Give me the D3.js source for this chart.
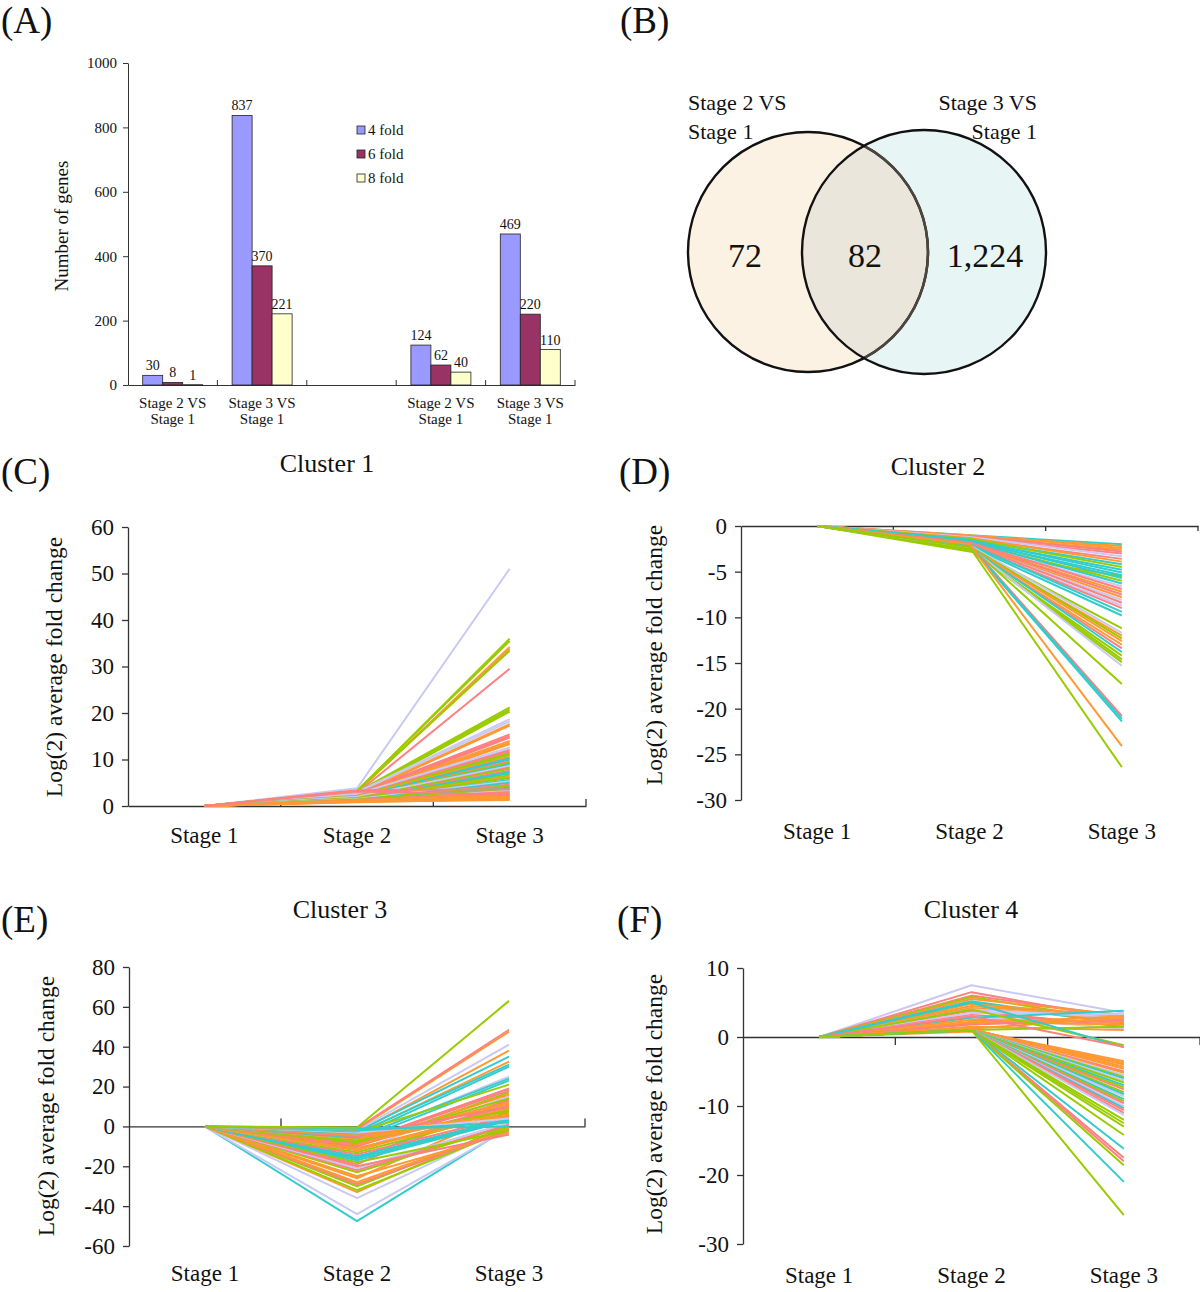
<!DOCTYPE html>
<html><head><meta charset="utf-8">
<script src="https://cdn.jsdelivr.net/npm/d3@7"></script>
<style>
body{margin:0;background:#fff}
svg{display:block}
svg text{font-family:"Liberation Serif","Times New Roman",serif !important;fill:#111}
</style>
</head><body>
<svg id="fig" width="1200" height="1292"></svg>
<script>
// ---------------- Panel A data ----------------
const barGroups = ["g1","g2","gap","g3","g4"];
const barGroupLabels = [["Stage 2 VS","Stage 1"],["Stage 3 VS","Stage 1"],[],["Stage 2 VS","Stage 1"],["Stage 3 VS","Stage 1"]];
const foldSeries = ["4 fold","6 fold","8 fold"];
const fold4 = [30, 837, null, 124, 469];
const fold6 = [8, 370, null, 62, 220];
const fold8 = [1, 221, null, 40, 110];
const barTicks = [0,200,400,600,800,1000];
const barYTitle = "Number of genes";

// ---------------- Panel B data ----------------
const vennSetLabels = [["Stage 2 VS","Stage 1"],["Stage 3 VS","Stage 1"]];
const vennCounts = [72, 82, 1224];
const vennCountLabels = ["72","82","1,224"];

// ---------------- Cluster panels ----------------
const stages = ["Stage 1","Stage 2","Stage 3"];
const stage1Value = 0;
const clusterTitles = ["Cluster 1","Cluster 2","Cluster 3","Cluster 4"];
const clusterYTitle = "Log(2) average fold change";
const cluster1Ticks = [0,10,20,30,40,50,60];
const cluster2Ticks = [0,-5,-10,-15,-20,-25,-30];
const cluster3Ticks = [80,60,40,20,0,-20,-40,-60];
const cluster4Ticks = [10,0,-10,-20,-30];
// colour groups: L lavender, G green, S salmon, O orange, T teal
// each line: [stage 2 value, stage 3 value, colour group]
const cluster1 = [
 [3.8,51,'L'],[3.2,36,'G'],[3.3,35.5,'G'],[3.0,34.2,'O'],[3.1,33.8,'O'],[3.2,33.4,'G'],
 [2.8,29.5,'S'],[3.0,21.2,'G'],[2.9,20.7,'G'],[2.6,20.3,'G'],[3.0,18.7,'L'],[2.8,18.2,'L'],
 [2.5,17.6,'O'],[2.4,17.3,'O'],[2.7,15.4,'S'],[2.5,15.0,'S'],[2.3,14.7,'S'],[2.4,14.0,'O'],
 [2.2,13.6,'O'],[2.0,13.3,'O'],[2.6,12.6,'L'],[2.3,12.2,'L'],[2.2,12.0,'S'],[2.0,11.6,'S'],
 [2.1,11.3,'G'],[1.9,11.0,'G'],[2.0,10.6,'O'],[1.8,10.3,'T'],[1.9,10.0,'T'],[1.7,9.6,'S'],
 [1.8,9.3,'G'],[1.6,9.0,'T'],[2.0,8.6,'L'],[1.5,8.3,'S'],[1.7,8.0,'G'],[1.6,7.6,'S'],
 [1.4,7.3,'T'],[1.5,7.0,'T'],[1.6,6.6,'G'],[1.3,6.3,'O'],[1.4,6.0,'G'],[1.2,5.6,'T'],
 [1.5,5.3,'L'],[1.3,5.0,'T'],[1.2,4.6,'S'],[1.4,4.3,'G'],[1.1,4.0,'T'],[1.2,3.6,'G'],
 [1.0,3.3,'L'],[1.3,3.0,'S'],[1.1,2.7,'O'],[1.0,2.5,'S'],[1.2,2.3,'O'],[0.9,2.1,'O'],
 [1.0,1.9,'O'],[1.1,1.7,'O'],[0.8,1.5,'O'],[0.9,1.3,'O'],[3.4,3.6,'S'],[3.1,2.4,'S']
];
const cluster2 = [
 [-2.8,-5.5,'G'],[-1.0,-2.0,'T'],[-1.1,-2.2,'O'],[-1.0,-2.4,'O'],[-1.2,-2.6,'O'],[-1.1,-2.8,'S'],
 [-1.3,-3.0,'S'],[-1.2,-3.3,'L'],[-1.4,-3.6,'S'],[-1.3,-3.9,'O'],[-1.5,-4.2,'T'],[-1.4,-4.5,'G'],
 [-1.6,-4.8,'T'],[-1.5,-5.1,'T'],[-1.7,-5.4,'T'],[-1.6,-5.7,'T'],[-1.8,-6.0,'G'],[-1.7,-6.3,'T'],
 [-1.9,-6.6,'L'],[-1.8,-6.9,'S'],[-2.0,-7.2,'O'],[-1.9,-7.5,'S'],[-2.0,-7.8,'O'],[-2.1,-8.1,'L'],
 [-2.0,-8.4,'S'],[-2.2,-8.7,'L'],[-2.1,-9.0,'S'],[-2.0,-9.4,'T'],[-2.2,-9.8,'T'],[-2.3,-11.2,'G'],
 [-2.1,-11.7,'L'],[-2.4,-12.0,'O'],[-2.2,-12.3,'G'],[-2.3,-12.6,'O'],[-2.5,-13.0,'O'],[-2.4,-13.4,'S'],
 [-2.3,-13.8,'T'],[-2.6,-14.2,'G'],[-2.4,-14.6,'G'],[-2.5,-14.9,'G'],[-2.3,-15.3,'L'],[-2.2,-17.3,'G'],
 [-2.0,-20.8,'S'],[-2.1,-21.1,'T'],[-2.2,-21.4,'T'],[-2.0,-24.1,'O'],[-2.3,-26.4,'G']
];
const cluster3 = [
 [-47.5,-0.5,'T'],[-44,-1,'L'],[-36,0,'L'],[-33,1,'O'],[-32,-1.5,'G'],[-30,0,'G'],[-29,-2,'S'],
 [-28,-1,'O'],[-26,8,'O'],[-25,-3,'O'],[-23,0.5,'G'],[-22,1,'S'],[-21,2,'L'],[-20,-4,'S'],
 [-19,14,'S'],[-18,-2,'G'],[-17,3,'T'],[-16,12,'T'],[-16,3.5,'T'],[-15,4,'T'],[-14,5,'S'],
 [-13,7,'G'],[-12,15,'L'],[-12,9,'O'],[-11,8,'O'],[-11,6,'O'],[-10,17,'G'],[-10,13,'S'],
 [-9,16,'O'],[-9,10,'S'],[-9,9,'O'],[-8.5,18,'S'],[-8,19,'S'],[-8,14,'G'],[-7,23,'T'],
 [-7,12,'O'],[-7,8,'G'],[-6,25,'L'],[-6,11,'O'],[-6,5,'O'],[-5.5,24,'T'],[-5,30,'T'],
 [-5,10,'S'],[-4,32.5,'O'],[-4,6,'O'],[-3.5,31,'T'],[-3,38,'O'],[-3,21,'G'],[-3,4,'L'],
 [-2.5,35,'T'],[-2,41,'L'],[-2,2,'T'],[-1.5,47.5,'O'],[-1,48.5,'S'],[-1,0,'T'],[-0.5,63,'G']
];
const cluster4 = [
 [7.5,3.5,'L'],[6.5,2.5,'S'],[6.0,3.0,'S'],[5.8,2.2,'G'],[5.5,3.2,'O'],[5.2,2.0,'T'],[5.0,1.8,'T'],
 [4.8,3.0,'O'],[4.5,2.7,'O'],[4.2,2.5,'O'],[4.0,2.8,'L'],[3.8,1.5,'S'],[3.5,3.3,'L'],[3.2,2.0,'S'],
 [3.0,1.2,'L'],[2.8,3.8,'T'],[2.5,2.2,'O'],[2.2,1.8,'O'],[2.0,3.0,'O'],[1.8,2.5,'S'],[1.5,1.0,'O'],
 [1.2,2.8,'O'],[1.0,1.5,'G'],[4.0,-1.2,'G'],[5.0,-1.5,'T'],[3.0,-1.4,'S'],
 [1.0,-3.5,'O'],[1.0,-3.8,'O'],[1.0,-4.0,'O'],[1.1,-4.3,'O'],[1.2,-4.6,'O'],[1.0,-5.0,'S'],
 [0.8,-5.2,'O'],[1.0,-5.5,'L'],[1.0,-5.8,'G'],[1.0,-6.0,'T'],[1.0,-6.3,'L'],[1.0,-6.6,'G'],
 [1.0,-7.0,'T'],[1.0,-7.3,'G'],[1.0,-7.6,'S'],[1.0,-8.0,'G'],[1.0,-8.3,'T'],[1.0,-8.6,'L'],
 [1.0,-9.0,'T'],[1.0,-9.3,'G'],[1.0,-9.6,'S'],[1.0,-10.0,'L'],[1.0,-10.3,'T'],[1.0,-10.6,'S'],
 [1.0,-11.0,'S'],[1.0,-11.3,'L'],[1.0,-12.0,'G'],[1.0,-12.5,'G'],[1.0,-13.0,'G'],[1.0,-14.2,'G'],
 [1.0,-16.2,'T'],[1.0,-17.5,'S'],[1.0,-18.0,'S'],[1.0,-18.6,'G'],[1.0,-21.0,'T'],[1.0,-25.8,'G']
];
const panelLetters = ["(A)","(B)","(C)","(D)","(E)","(F)"];

// ---------------- styles ----------------
const barColors = ["#9999FF","#993366","#FFFFCC"];
const lineColors = {L:"#C9C9F3", G:"#99CC00", S:"#FF8080", O:"#FF9933", T:"#33CCCC"};
const axisColor = "#333";
const SERIF = "Liberation Serif";

const svg = d3.select("#fig");
svg.append("rect").attr("width",1200).attr("height",1292).attr("fill","#fff");

function letter(t, x, y){
  svg.append("text").attr("x",x).attr("y",y).attr("font-family",SERIF).attr("font-size",37).text(t);
}
letter(panelLetters[0], 1, 33);
letter(panelLetters[1], 620, 33);
letter(panelLetters[2], 1, 484);
letter(panelLetters[3], 619, 484);
letter(panelLetters[4], 1, 932);
letter(panelLetters[5], 617, 932);

// ---------------- Panel A ----------------
(function(){
  const g = svg.append("g").attr("font-family",SERIF);
  const x = d3.scaleBand().domain(barGroups).range([128,575]).paddingInner(0).paddingOuter(0);
  const y = d3.scaleLinear().domain([0,1000]).range([385,63]);
  const inner = d3.scaleBand().domain(foldSeries).range([0,60]);
  const off = (x.bandwidth()-60)/2;
  const ya = g.append("g").attr("transform","translate(128,0)")
    .call(d3.axisLeft(y).tickValues(barTicks).tickSize(5).tickSizeOuter(0).tickPadding(6).tickFormat(d=>String(d)));
  ya.attr("font-family",SERIF);
  ya.selectAll("text").attr("font-size",15);
  ya.selectAll("line,path").attr("stroke",axisColor);
  const xa = g.append("g").attr("transform","translate(0,385)")
    .call(d3.axisBottom(x).tickSize(0).tickSizeOuter(0).tickFormat(""));
  xa.selectAll("path").attr("stroke",axisColor);
  g.append("g").selectAll("line").data(barGroups).join("line")
    .attr("x1",d=>x(d)+x.bandwidth()).attr("x2",d=>x(d)+x.bandwidth())
    .attr("y1",385).attr("y2",380).attr("stroke",axisColor);
  const series = [fold4, fold6, fold8];
  series.forEach((vals, si)=>{
    const rows = barGroups.map((gname,i)=>({g:gname, v:vals[i]})).filter(d=>d.v!==null);
    g.append("g").selectAll("rect").data(rows).join("rect")
      .attr("x",d=>x(d.g)+off+inner(foldSeries[si]))
      .attr("y",d=>y(d.v)).attr("width",inner.bandwidth())
      .attr("height",d=>y(0)-y(d.v))
      .attr("fill",barColors[si]).attr("stroke","#222").attr("stroke-width",0.8);
    g.append("g").selectAll("text").data(rows).join("text")
      .attr("x",d=>x(d.g)+off+inner(foldSeries[si])+inner.bandwidth()/2)
      .attr("y",d=>y(d.v)-5).attr("text-anchor","middle").attr("font-size",14)
      .text(d=>String(d.v));
  });
  barGroups.forEach((gname,i)=>{
    barGroupLabels[i].forEach((ln,j)=>{
      g.append("text").attr("x",x(gname)+x.bandwidth()/2).attr("y",408+j*16)
        .attr("text-anchor","middle").attr("font-size",15).text(ln);
    });
  });
  g.append("text").attr("transform","translate(68,226) rotate(-90)")
    .attr("text-anchor","middle").attr("font-size",19).text(barYTitle);
  foldSeries.forEach((s,i)=>{
    g.append("rect").attr("x",357).attr("y",126+i*24).attr("width",8).attr("height",8)
      .attr("fill",barColors[i]).attr("stroke","#222").attr("stroke-width",0.8);
    g.append("text").attr("x",368).attr("y",135+i*24).attr("font-size",15).text(s);
  });
})();

// ---------------- Panel B (Venn) ----------------
(function(){
  const g = svg.append("g").attr("font-family",SERIF);
  const c1 = {x:808, y:252, r:120}, c2 = {x:924, y:252, r:122};
  const defs = svg.append("defs");
  defs.append("clipPath").attr("id","clipL").append("circle").attr("cx",c1.x).attr("cy",c1.y).attr("r",c1.r);
  defs.append("clipPath").attr("id","clipR").append("circle").attr("cx",c2.x).attr("cy",c2.y).attr("r",c2.r);
  g.append("circle").attr("cx",c1.x).attr("cy",c1.y).attr("r",c1.r).attr("fill","#FCF2E4");
  g.append("circle").attr("cx",c2.x).attr("cy",c2.y).attr("r",c2.r).attr("fill","#E8F5F5");
  g.append("circle").attr("cx",c2.x).attr("cy",c2.y).attr("r",c2.r).attr("fill","#EBE6DC").attr("clip-path","url(#clipL)");
  g.append("circle").attr("cx",c1.x).attr("cy",c1.y).attr("r",c1.r).attr("fill","none").attr("stroke","#111").attr("stroke-width",2.4);
  g.append("circle").attr("cx",c1.x).attr("cy",c1.y).attr("r",c1.r).attr("fill","none").attr("stroke","#4a463e").attr("stroke-width",2.6).attr("clip-path","url(#clipR)");
  g.append("circle").attr("cx",c2.x).attr("cy",c2.y).attr("r",c2.r).attr("fill","none").attr("stroke","#111").attr("stroke-width",2.4);
  vennSetLabels[0].forEach((t,j)=>g.append("text").attr("x",688).attr("y",110+j*29).attr("font-size",22).text(t));
  vennSetLabels[1].forEach((t,j)=>g.append("text").attr("x",1037).attr("y",110+j*29).attr("text-anchor","end").attr("font-size",22).text(t));
  const cx = [745, 865, 985];
  vennCounts.forEach((v,i)=>g.append("text").attr("x",cx[i]).attr("y",267).attr("text-anchor","middle").attr("font-size",34).text(vennCountLabels[i]));
})();

// ---------------- cluster panels ----------------
function linePanel(p){
  const g = svg.append("g").attr("font-family",SERIF);
  const x = d3.scaleBand().domain(stages).range([p.x0,p.x1]).paddingInner(0).paddingOuter(0);
  const y = d3.scaleLinear().domain(p.domain).range([p.yb,p.yt]);
  const bw = x.bandwidth();
  const ya = g.append("g").attr("transform",`translate(${p.x0},0)`)
    .call(d3.axisLeft(y).tickValues(p.ticks).tickSize(6).tickSizeOuter(0).tickPadding(8).tickFormat(d=>String(d)));
  ya.attr("font-family",SERIF);
  ya.selectAll("text").attr("font-size",23).attr("fill","#111");
  ya.selectAll("line,path").attr("stroke",axisColor).attr("stroke-width",1.3);
  const ay = y(p.cross);
  const xa = g.append("g").attr("transform",`translate(0,${ay})`)
    .call(d3.axisBottom(x).tickSize(0).tickSizeOuter(0).tickFormat(""));
  xa.selectAll("path").attr("stroke",axisColor).attr("stroke-width",1.3);
  g.append("g").selectAll("line").data(stages).join("line")
    .attr("x1",d=>x(d)+bw).attr("x2",d=>x(d)+bw)
    .attr("y1",ay).attr("y2",ay+p.tick).attr("stroke",axisColor).attr("stroke-width",1.3);
  const line = d3.line().x(d=>x(d.s)+bw/2).y(d=>y(d.v));
  g.append("g").selectAll("path").data(p.data).join("path")
    .attr("d",d=>line([{s:stages[0],v:stage1Value},{s:stages[1],v:d[0]},{s:stages[2],v:d[1]}]))
    .attr("fill","none").attr("stroke",d=>lineColors[d[2]]).attr("stroke-width",2)
    .attr("stroke-linejoin","round");
  g.append("g").selectAll("text").data(stages).join("text")
    .attr("x",d=>x(d)+bw/2).attr("y",p.labelY).attr("text-anchor","middle")
    .attr("font-size",23).text(d=>d);
  g.append("text").attr("x",p.tx).attr("y",p.ty).attr("text-anchor","middle").attr("font-size",26).text(p.title);
  g.append("text").attr("transform",`translate(${p.ytx},${p.yty}) rotate(-90)`)
    .attr("text-anchor","middle").attr("font-size",23.5).text(clusterYTitle);
}

linePanel({x0:128,x1:586,yt:527,yb:806,domain:[0,60],ticks:cluster1Ticks,cross:0,tick:-7,
  data:cluster1,labelY:843,title:clusterTitles[0],tx:327,ty:472,ytx:62,yty:667});
linePanel({x0:741,x1:1198,yt:526,yb:800,domain:[-30,0],ticks:cluster2Ticks,cross:0,tick:5,
  data:cluster2,labelY:839,title:clusterTitles[1],tx:938,ty:475,ytx:662,yty:655});
linePanel({x0:129,x1:585,yt:967,yb:1246,domain:[-60,80],ticks:cluster3Ticks,cross:0,tick:-8,
  data:cluster3,labelY:1281,title:clusterTitles[2],tx:340,ty:918,ytx:54,yty:1106});
linePanel({x0:743,x1:1200,yt:968,yb:1244,domain:[-30,10],ticks:cluster4Ticks,cross:0,tick:8,
  data:cluster4,labelY:1283,title:clusterTitles[3],tx:971,ty:918,ytx:662,yty:1104});
</script>
</body></html>
